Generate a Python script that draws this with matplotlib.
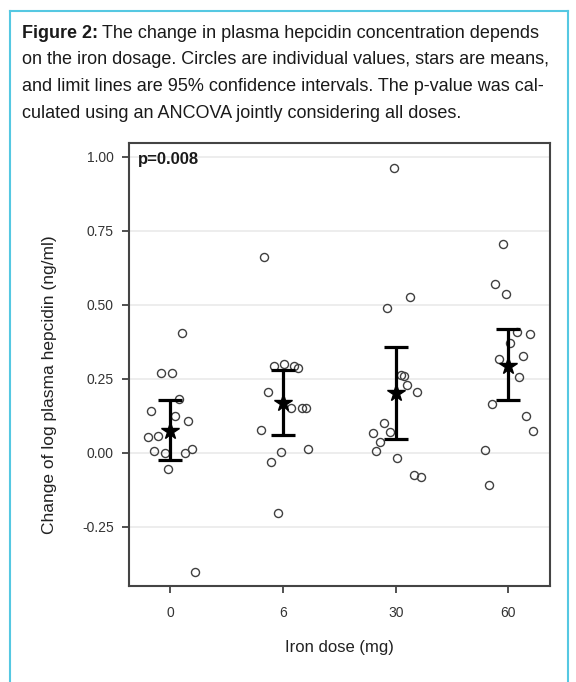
import matplotlib
matplotlib.use('Agg')
import numpy as np
from matplotlib import pyplot as plt
from matplotlib.lines import Line2D

plt.rcParams['font.family'] = ['Liberation Sans', 'DejaVu Sans']

dose_labels = ['0', '6', '30', '60']

# individual values per dose group, with the horizontal jitter
vals_0 = [0.140, 0.053, 0.058, 0.005, 0.000, 0.123, 0.181, 0.106, -0.001,
          0.012, -0.054, -0.403, 0.269, 0.269, 0.404]
jit_0 = [-0.171, -0.201, -0.109, -0.142, -0.050, 0.042, 0.074, 0.157, 0.130,
         0.193, -0.020, 0.219, -0.083, 0.012, 0.101]

vals_6 = [0.207, 0.078, 0.151, 0.152, 0.152, 0.004, -0.032, 0.014, -0.205,
          0.292, 0.299, 0.293, 0.286, 0.662]
jit_6 = [-0.136, -0.199, 0.074, 0.171, 0.200, -0.018, -0.110, 0.222, -0.048,
         -0.077, 0.012, 0.100, 0.133, -0.166]

vals_30 = [0.228, 0.204, 0.068, 0.100, 0.070, 0.038, 0.007, -0.016, -0.076,
           -0.083, 0.490, 0.262, 0.258, 0.964, 0.526]
jit_30 = [0.098, 0.193, -0.201, -0.106, -0.047, -0.136, -0.171, 0.012, 0.160,
          0.222, -0.076, 0.044, 0.074, -0.018, 0.130]

vals_60 = [0.569, 0.537, 0.410, 0.400, 0.372, 0.328, 0.317, 0.256, 0.165,
           0.125, 0.074, 0.010, 0.707, -0.108]
jit_60 = [-0.118, -0.020, 0.074, 0.193, 0.015, 0.128, -0.085, 0.095, -0.145,
          0.160, 0.222, -0.204, -0.050, -0.171]

means = [0.075, 0.168, 0.202, 0.295]
ci_low = [-0.024, 0.059, 0.048, 0.177]
ci_high = [0.179, 0.281, 0.357, 0.418]

caption_lines = [
    'The change in plasma hepcidin concentration depends',
    'on the iron dosage. Circles are individual values, stars are means,',
    'and limit lines are 95% confidence intervals. The p-value was cal-',
    'culated using an ANCOVA jointly considering all doses.',
]

W, H = 576, 682
fig = plt.figure(figsize=(W / 100, H / 100), dpi=100)
fig.patch.set_facecolor('white')

# caption frame (open at the bottom)
frame_col = '#55c8e2'
fx0, fx1, fy0 = 10 / W, 568 / W, 1 - 11 / H
fig.add_artist(Line2D([fx0, fx0], [0, fy0], color=frame_col, lw=1.5))
fig.add_artist(Line2D([fx1, fx1], [0, fy0], color=frame_col, lw=1.5))
fig.add_artist(Line2D([fx0, fx1], [fy0, fy0], color=frame_col, lw=1.5))

# caption text
renderer = fig.canvas.get_renderer()
tx = 22 / W
line_y = [33, 60, 86.5, 113]
head = fig.text(tx, 1 - line_y[0] / H, 'Figure 2:', fontsize=13,
                fontweight='bold', va='center', ha='left', color='#1a1a1a')
bb = head.get_window_extent(renderer)
fig.text(bb.x1 / W + 4 / W, 1 - line_y[0] / H, caption_lines[0], fontsize=13,
         va='center', ha='left', color='#1a1a1a')
for y, line in zip(line_y[1:], caption_lines[1:]):
    fig.text(tx, 1 - y / H, line, fontsize=13, va='center', ha='left',
             color='#1a1a1a')

# plot
ax = fig.add_axes([129 / W, 1 - 586 / H, (550 - 129) / W, (586 - 143) / H])

groups = [(vals_0, jit_0), (vals_6, jit_6), (vals_30, jit_30), (vals_60, jit_60)]
for i, (vals, jit) in enumerate(groups):
    ax.plot(i + np.array(jit), vals, 'o', mfc='none', mec='#404040',
            mew=1.0, ms=5.8, zorder=3)

xpos = np.arange(len(dose_labels))
means = np.array(means)
yerr = [means - np.array(ci_low), np.array(ci_high) - means]
ax.errorbar(xpos, means, yerr=yerr, fmt='none', ecolor='black', elinewidth=2.3,
            capsize=8.5, capthick=2.3, zorder=4)
ax.plot(xpos, means, '*', color='black', ms=13, zorder=5)

ax.set_xlim(-0.366, 3.369)
ax.set_ylim(-0.45, 1.047)
ax.set_xticks(xpos)
ax.set_xticklabels(dose_labels)
yt = [-0.25, 0.0, 0.25, 0.5, 0.75, 1.0]
ax.set_yticks(yt)
ax.set_yticklabels([f'{v:.2f}' for v in yt])
ax.yaxis.grid(True, color='#ececec', lw=1.3)
ax.set_axisbelow(True)
ax.tick_params(axis='both', labelsize=10, colors='#333333', length=5,
               width=1.2, pad=6)
ax.tick_params(axis='x', pad=9.5)
for s in ax.spines.values():
    s.set_color('#444444')
    s.set_linewidth(1.5)

ax.set_xlabel('Iron dose (mg)', fontsize=12, color='#222222')
ax.xaxis.set_label_coords(0.5, -0.122)
ax.set_ylabel('Change of log plasma hepcidin (ng/ml)', fontsize=12.5,
              color='#222222')
ax.yaxis.set_label_coords(-0.17, 0.455)
ax.text(0.022, 0.963, 'p=0.008', transform=ax.transAxes, fontsize=12,
        fontweight='bold', va='center', ha='left', color='#1a1a1a')

fig.savefig('out.png', dpi=100)
